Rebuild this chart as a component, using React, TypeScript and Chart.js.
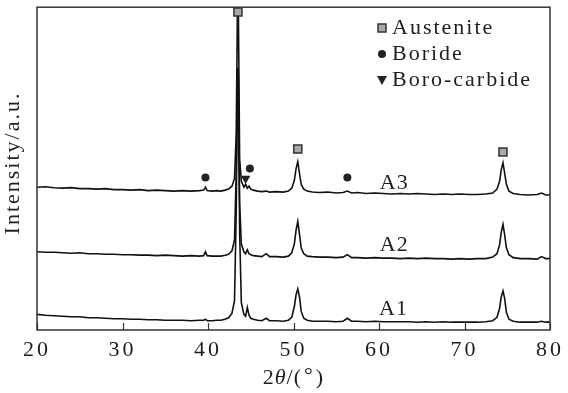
import React, { useEffect, useRef } from "react";
import { Chart, registerables } from "chart.js";

Chart.register(...registerables);

// 2θ positions (degrees) shared by the three patterns
const twoTheta = [
  20, 21, 22, 23, 24, 25, 26, 27, 28, 29, 30, 31, 32, 33, 34, 35, 36, 37, 38, 39,
  39.5, 39.7, 39.9, 40.5, 41, 41.5, 42, 42.4, 42.8, 43.1, 43.3, 43.45, 43.55, 43.7, 43.9,
  44.2, 44.4, 44.6, 44.8, 45.0, 45.3, 45.8, 46.3, 46.8, 47.2, 48, 48.8, 49.4, 49.8, 50.1,
  50.3, 50.5, 50.7, 50.9, 51.2, 51.6, 52.2, 53, 54, 55, 55.8, 56.3, 56.8, 57.5, 58.5,
  59.5, 60.5, 61.5, 62.5, 63.5, 64.5, 65.5, 66.5, 67.5, 68.5, 69.5, 70.5, 71.5, 72.5, 73.3,
  73.8, 74.1, 74.3, 74.5, 74.7, 74.9, 75.2, 75.7, 76.5, 77.5, 78.5, 79, 79.5, 80,
];

// Intensities (a.u., stacked with offsets as in the figure)
const intensityA1 = [
  16, 15, 14.5, 14, 13.5, 13.5, 12.5, 12.5, 12, 11.5, 11.5, 11, 11, 10.5, 10.5, 10, 10, 10, 9.5, 10,
  10, 11, 9.5, 9.5, 10, 10, 11, 12.5, 17, 30, 120, 250, 240, 100, 28,
  16, 14, 23, 15, 12, 11, 10, 9.5, 12, 9.5, 9.5, 9, 10, 13, 24,
  36, 42, 34, 19, 12, 10, 9, 9, 9, 8.5, 9, 12, 9, 9, 8.5,
  9, 8.5, 8.5, 8.5, 8.5, 8, 8.5, 8, 8.5, 8, 8, 8, 8, 8.5, 9.5,
  13, 22, 34, 40, 32, 18, 11, 9, 8, 8, 8, 9, 8, 8,
];

const intensityA2 = [
  80, 79.5, 79.5, 79, 78.5, 79, 78, 78, 77.5, 77.5, 77, 77, 76.5, 76.5, 76, 76.5, 76, 75.5, 76, 75.5,
  76, 80, 76, 75.5, 75.5, 75.5, 76.5, 77.5, 81, 92, 160, 268, 262, 130, 88,
  80, 78, 82, 78, 77, 76, 75.5, 75, 78, 75, 75, 74.5, 75.5, 79, 88,
  102, 111, 98, 84, 78, 75.5, 75, 74.5, 74.5, 74, 74.5, 77, 74, 74, 73.5,
  74, 73.5, 73.5, 73, 73.5, 73, 73.5, 73, 73, 72.5, 73, 72.5, 73, 73, 74.5,
  78, 87, 100, 108, 97, 84, 77, 74, 73, 73, 72.5, 75, 73, 73,
];

const intensityA3 = [
  146, 146.5, 145.5, 145, 145.5, 144.5, 144.5, 144, 144.5, 143.5, 143.5, 143, 143.5, 142.5, 143, 142.5, 142, 142.5, 142, 142.5,
  143, 146, 142.5, 142, 142.5, 142, 143, 144, 147, 155, 200, 335, 330, 175, 152,
  146, 149, 145, 147, 144, 143, 142, 141.5, 142, 141, 141.5, 141, 142, 145, 153,
  165, 172, 160, 149, 144, 142, 141, 140.5, 141, 140, 140.5, 142, 140, 140.5, 139.5,
  140, 139.5, 139, 139.5, 139, 139.5, 139, 138.5, 139, 138.5, 139, 138.5, 138.5, 139, 140,
  144, 152, 164, 171, 160, 149, 142, 139.5, 138.5, 138, 138.5, 140, 138, 138,
];

const seriesNames = ["A1", "A2", "A3"];
const xTicks = [20, 30, 40, 50, 60, 70, 80];

// Phase markers
const austeniteX = [43.5, 50.5, 74.5];
const austeniteY = [325, 185, 182];
const borideX = [39.7, 44.9, 56.3];
const borideY = [156, 165, 156];
const boroCarbideX = [44.4];
const boroCarbideY = [155];
const phaseNames = ["Austenite", "Boride", "Boro-carbide"];

const FONT = "'Liberation Serif', 'Times New Roman', serif";
const TEXT = "#1e1e1e";

function pts(xs: number[], ys: number[]) {
  return xs.map((x, i) => ({ x, y: ys[i] }));
}

export default function App() {
  const ref = useRef<HTMLCanvasElement | null>(null);

  useEffect(() => {
    const canvas = ref.current;
    if (!canvas) return;

    const labelAnchors = [
      { name: seriesNames[0], x: 60.0, y: 21 },
      { name: seriesNames[1], x: 60.1, y: 87 },
      { name: seriesNames[2], x: 60.1, y: 150 },
    ];

    const overlay = {
      id: "overlay",
      beforeDraw(chart: any) {
        chart.ctx.letterSpacing = "3px";
      },
      afterDraw(chart: any) {
        const { ctx, chartArea: a, scales } = chart;
        const xs = scales.x;
        const ys = scales.y;
        ctx.save();
        ctx.letterSpacing = "0px";
        // frame
        ctx.strokeStyle = "#333";
        ctx.lineWidth = 1.5;
        ctx.strokeRect(a.left, a.top, a.right - a.left, a.bottom - a.top);
        // inward ticks
        ctx.lineWidth = 1.2;
        xTicks.forEach((v) => {
          const px = Math.round(xs.getPixelForValue(v)) + 0.5;
          ctx.beginPath();
          ctx.moveTo(px, a.bottom);
          ctx.lineTo(px, a.bottom - 7);
          ctx.stroke();
        });

        ctx.fillStyle = TEXT;
        ctx.font = `22px ${FONT}`;
        ctx.letterSpacing = "1px";
        ctx.textBaseline = "middle";
        ctx.textAlign = "left";
        // series labels
        labelAnchors.forEach((l) => {
          ctx.fillText(l.name, xs.getPixelForValue(l.x), ys.getPixelForValue(l.y));
        });

        // legend
        ctx.letterSpacing = "2px";
        const lx = 382;
        const rows = [28, 54, 80];
        ctx.fillStyle = "#a8a8a8";
        ctx.strokeStyle = "#333";
        ctx.lineWidth = 1.5;
        ctx.fillRect(lx - 4, rows[0] - 4, 8, 8);
        ctx.strokeRect(lx - 4, rows[0] - 4, 8, 8);
        ctx.fillStyle = "#222";
        ctx.beginPath();
        ctx.arc(lx, rows[1], 4, 0, Math.PI * 2);
        ctx.fill();
        ctx.beginPath();
        ctx.moveTo(lx - 5, rows[2] - 4);
        ctx.lineTo(lx + 5, rows[2] - 4);
        ctx.lineTo(lx, rows[2] + 5);
        ctx.closePath();
        ctx.fill();
        ctx.fillStyle = TEXT;
        phaseNames.forEach((n, i) => ctx.fillText(n, 392, rows[i]));

        // y title
        ctx.save();
        ctx.translate(13, 163);
        ctx.rotate(-Math.PI / 2);
        ctx.textAlign = "center";
        ctx.fillText("Intensity/a.u.", 0, 0);
        ctx.restore();

        // x title: 2θ/(°)
        ctx.letterSpacing = "1px";
        ctx.textBaseline = "alphabetic";
        const normal = `22px ${FONT}`;
        const italic = `italic 22px ${FONT}`;
        const parts = [
          { t: "2", f: normal },
          { t: "θ", f: italic },
          { t: "/(", f: normal },
          { t: "°", f: normal },
          { t: ")", f: normal },
        ];
        let total = 0;
        parts.forEach((p) => {
          ctx.font = p.f;
          total += ctx.measureText(p.t).width + (p.t === "°" ? 4 : 0);
        });
        let cx = (a.left + a.right) / 2 - total / 2;
        const by = 384;
        parts.forEach((p) => {
          ctx.font = p.f;
          if (p.t === "°") {
            ctx.fillText(p.t, cx + 2, by - 2);
            cx += ctx.measureText(p.t).width + 4;
          } else {
            ctx.fillText(p.t, cx, by);
            cx += ctx.measureText(p.t).width;
          }
        });
        ctx.restore();
        chart.ctx.letterSpacing = "0px";
      },
    };

    const lineDs = (data: number[]) => ({
      type: "line" as const,
      data: pts(twoTheta, data),
      borderColor: "#111",
      borderWidth: 1.6,
      pointRadius: 0,
      tension: 0,
      fill: false,
      order: 2,
    });

    const chart = new Chart(canvas, {
      type: "line",
      data: {
        datasets: [
          lineDs(intensityA1),
          lineDs(intensityA2),
          lineDs(intensityA3),
          {
            type: "line",
            label: phaseNames[0],
            data: pts(austeniteX, austeniteY),
            showLine: false,
            pointStyle: "rect",
            pointRadius: 5.7,
            pointBackgroundColor: "#a8a8a8",
            pointBorderColor: "#333",
            pointBorderWidth: 1.5,
            order: 1,
            clip: false,
          } as any,
          {
            type: "line",
            label: phaseNames[1],
            data: pts(borideX, borideY),
            showLine: false,
            pointStyle: "circle",
            pointRadius: 4,
            pointBackgroundColor: "#222",
            pointBorderColor: "#222",
            pointBorderWidth: 0,
            order: 1,
          } as any,
          {
            type: "line",
            label: phaseNames[2],
            data: pts(boroCarbideX, boroCarbideY),
            showLine: false,
            pointStyle: "triangle",
            rotation: 180,
            pointRotation: 180,
            pointRadius: 5.5,
            pointBackgroundColor: "#222",
            pointBorderColor: "#222",
            pointBorderWidth: 0,
            order: 1,
          } as any,
        ],
      },
      options: {
        responsive: false,
        animation: false,
        events: [],
        layout: { padding: { left: 37, right: 14, top: 1, bottom: 0 } },
        plugins: { legend: { display: false }, tooltip: { enabled: false } },
        scales: {
          x: {
            type: "linear",
            min: 20,
            max: 80,
            afterFit: (s: any) => {
              s.height = 63;
            },
            grid: { display: false, drawTicks: false },
            border: { display: false },
            ticks: {
              stepSize: 10,
              padding: 7,
              maxRotation: 0,
              color: TEXT,
              font: { family: FONT, size: 22 },
            },
          },
          y: {
            type: "linear",
            min: 0,
            max: 330,
            display: false,
          },
        },
      },
      plugins: [overlay],
    });

    return () => chart.destroy();
  }, []);

  return (
    <canvas
      ref={ref}
      width={568}
      height={393}
      style={{ position: "absolute", left: 0, top: 0, display: "block", background: "#fff" }}
    />
  );
}
